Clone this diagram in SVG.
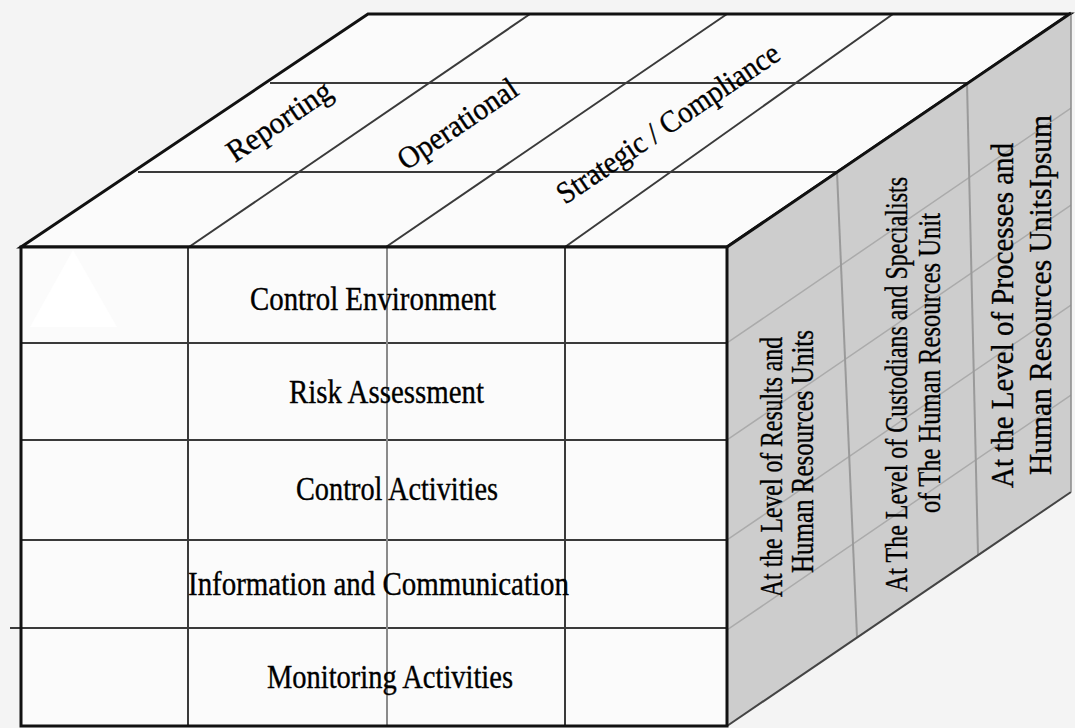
<svg xmlns="http://www.w3.org/2000/svg" width="1075" height="728" viewBox="0 0 1075 728">
  <style>
    .edge { fill: none; stroke: #111; stroke-width: 3; stroke-linejoin: miter; }
    .grid { fill: none; stroke: #3a3a3a; stroke-width: 2; }
    .grid-light { fill: none; stroke: #8a8a8a; stroke-width: 2; }
    .side-grid { fill: none; stroke: #9a9a9a; stroke-width: 2; }
    .side-faint { fill: none; stroke: #ababab; stroke-width: 1.5; }
    .lbl { font-family: "Liberation Serif", "Times New Roman", serif; fill: #000; stroke: #000; stroke-width: 0.35; }
    .front-lbl { font-size: 33px; }
    .top-lbl { font-size: 31px; }
    .side-lbl { font-size: 31px; }
  </style>
  <defs>
    <clipPath id="sideClip">
      <polygon points="727,247 1071,13 1071,492 727,726"/>
    </clipPath>
  </defs>

  <!-- background -->
  <rect x="0" y="0" width="1075" height="728" fill="#f4f4f4"/>

  <!-- top face of the cube -->
  <g id="top-face">
    <polygon points="21,247 368,14 1070,14 727,247" fill="#fbfbfb"/>
    <line class="grid" x1="270" y1="83" x2="967" y2="83"/>
    <line class="grid" x1="138" y1="172" x2="837" y2="172"/>
    <line class="grid" x1="189" y1="247" x2="530" y2="14"/>
    <line class="grid" x1="386" y1="247" x2="727" y2="14"/>
    <line class="grid" x1="565" y1="247" x2="893" y2="14"/>
    <polygon class="edge" points="21,247 368,14 1070,14 727,247"/>
  </g>

  <!-- right side face of the cube -->
  <g id="side-face">
    <polygon points="727,247 1071,13 1071,492 727,726" fill="#cdcdcd"/>
    <g clip-path="url(#sideClip)">
      <line class="side-faint" x1="727" y1="343" x2="1071" y2="108"/>
      <line class="side-faint" x1="727" y1="440" x2="1071" y2="205"/>
      <line class="side-faint" x1="727" y1="540" x2="1071" y2="305"/>
      <line class="side-faint" x1="727" y1="630" x2="1071" y2="395"/>
    </g>
    <line class="side-grid" x1="837" y1="172" x2="857" y2="637"/>
    <line class="side-grid" x1="967" y1="83" x2="978" y2="555"/>
    <line x1="727" y1="726" x2="1071" y2="492" stroke="#444" stroke-width="2"/>
    <line x1="1071" y1="13" x2="1071" y2="492" stroke="#8a8a8a" stroke-width="1.5"/>
    <line class="edge" x1="727" y1="247" x2="1071" y2="13"/>
  </g>

  <!-- front face of the cube -->
  <g id="front-face">
    <rect x="21" y="247" width="706" height="479" fill="#fbfbfb"/>
    <polygon points="73,250 117,327 30,327" fill="#ffffff"/>
    <line class="grid" x1="21" y1="343" x2="727" y2="343"/>
    <line class="grid" x1="21" y1="440" x2="727" y2="440"/>
    <line class="grid" x1="21" y1="540" x2="727" y2="540"/>
    <line class="grid" x1="10" y1="628" x2="727" y2="628"/>
    <line class="grid" x1="188" y1="247" x2="188" y2="726"/>
    <line class="grid-light" x1="387" y1="247" x2="387" y2="726"/>
    <line class="grid" x1="565" y1="247" x2="565" y2="726"/>
    <rect class="edge" x="21" y="247" width="706" height="479"/>
  </g>

  <!-- component labels on the front face -->
  <g id="front-labels" class="lbl front-lbl">
    <text x="250" y="310" textLength="246" lengthAdjust="spacingAndGlyphs">Control Environment</text>
    <text x="289" y="403" textLength="195" lengthAdjust="spacingAndGlyphs">Risk Assessment</text>
    <text x="296" y="500" textLength="202" lengthAdjust="spacingAndGlyphs">Control Activities</text>
    <text x="188" y="595" textLength="381" lengthAdjust="spacingAndGlyphs">Information and Communication</text>
    <text x="267" y="688" textLength="246" lengthAdjust="spacingAndGlyphs">Monitoring Activities</text>
  </g>

  <!-- objective labels on the top face -->
  <g id="top-labels" class="lbl top-lbl">
    <text transform="translate(235,163) rotate(-34)" textLength="120" lengthAdjust="spacingAndGlyphs">Reporting</text>
    <text transform="translate(406,171) rotate(-34)" textLength="138" lengthAdjust="spacingAndGlyphs">Operational</text>
    <text transform="translate(565,205) rotate(-34)" textLength="262" lengthAdjust="spacingAndGlyphs">Strategic / Compliance</text>
  </g>

  <!-- level labels on the side face -->
  <g id="side-labels" class="lbl side-lbl">
    <text transform="translate(782,597) rotate(-90)" textLength="260" lengthAdjust="spacingAndGlyphs">At the Level of Results and</text>
    <text transform="translate(813,573) rotate(-90)" textLength="243" lengthAdjust="spacingAndGlyphs">Human Resources Units</text>
    <text transform="translate(907,592) rotate(-90)" textLength="415" lengthAdjust="spacingAndGlyphs">At The Level of Custodians and Specialists</text>
    <text transform="translate(940,513) rotate(-90)" textLength="300" lengthAdjust="spacingAndGlyphs">of The Human Resources Unit</text>
    <text transform="translate(1013,488) rotate(-90)" textLength="345" lengthAdjust="spacingAndGlyphs">At the Level of Processes and</text>
    <text transform="translate(1051,475) rotate(-90)" textLength="360" lengthAdjust="spacingAndGlyphs">Human Resources UnitsIpsum</text>
  </g>
</svg>
